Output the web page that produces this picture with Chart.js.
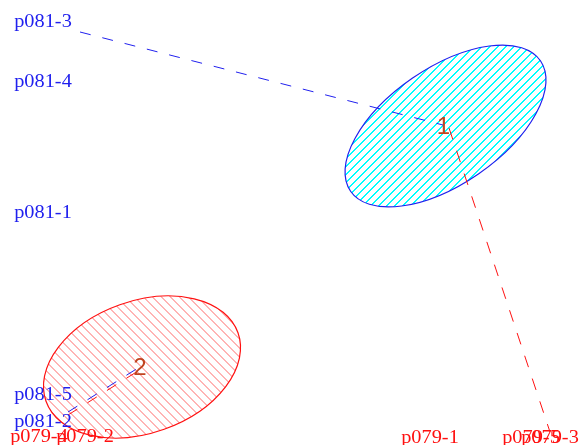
<!DOCTYPE html>
<html>
<head>
<meta charset="utf-8">
<script src="https://cdn.jsdelivr.net/npm/chart.js@4.4.0/dist/chart.umd.min.js"></script>
<style>
  html, body { margin: 0; padding: 0; background: #fff; }
  #wrap { width: 581px; height: 445px; }
</style>
</head>
<body>
<div id="wrap"><canvas id="myChart"></canvas></div>
<script>
// clusters: center, semi axes, tilt (deg)
var clusterNames = ['1', '2'];
var clusterX = [1.555, -1.48];
var clusterY = [0.96, -1.45];
var clusterA = [1.152, 1.019];
var clusterB = [0.581, 0.661];
var clusterAngle = [34.5, 19.6];

// point labels
var pointNames = ['p081-3', 'p081-4', 'p081-1', 'p081-5', 'p081-2',
                  'p079-4', 'p079-2', 'p079-1', 'p079-5', 'p079-3'];
var pointX = [-2.47, -2.47, -2.47, -2.47, -2.47, -2.51, -2.05, 1.40, 2.41, 2.60];
var pointY = [2.00, 1.40, 0.09, -1.73, -2.00, -2.15, -2.15, -2.16, -2.16, -2.16];
var pointGroup = [0, 0, 0, 0, 0, 1, 1, 1, 1, 1];

// dashed links
var link1X = [-2.10, 1.53];
var link1Y = [1.90, 0.97];
var link2X = [1.59, 2.60];
var link2Y = [0.94, -2.10];
var link3X = [-2.22, -1.52];
var link3Y = [-1.90, -1.46];
var link4X = [-2.22, -1.52];
var link4Y = [-1.93, -1.49];

var groupColor = ['#2020ee', '#ff1010'];
var hatchColor = ['#00ffff', '#ffb4b4'];
var hatchStep = [8, 9];

function pts(xs, ys) {
  return xs.map(function (x, i) { return {x: x, y: ys[i]}; });
}

// diagonal hatch tile, stair-stepped like the original
function hatch(color, dir, s) {
  var c = document.createElement('canvas');
  c.width = s; c.height = s;
  var g = c.getContext('2d');
  g.fillStyle = color;
  for (var k = 0; k < s; k++) {
    var y = dir > 0 ? s - 1 - k : k;
    g.fillRect(k, y, 1, 1);
    g.fillRect(k, (y + 1) % s, 1, 1);
  }
  return g.createPattern(c, 'repeat');
}

var clusterPlugin = {
  id: 'clusters',
  beforeDatasetsDraw: function (chart) {
    var ctx = chart.ctx, xs = chart.scales.x, ys = chart.scales.y;
    var unit = xs.getPixelForValue(1) - xs.getPixelForValue(0);
    ctx.save();
    for (var i = 0; i < clusterNames.length; i++) {
      var cx = xs.getPixelForValue(clusterX[i]);
      var cy = ys.getPixelForValue(clusterY[i]);
      ctx.beginPath();
      ctx.ellipse(cx, cy, clusterA[i] * unit, clusterB[i] * unit,
                  -clusterAngle[i] * Math.PI / 180, 0, Math.PI * 2);
      ctx.fillStyle = hatch(hatchColor[i], i === 0 ? 1 : -1, hatchStep[i]);
      ctx.fill();
      ctx.strokeStyle = groupColor[i];
      ctx.lineWidth = 1.2;
      ctx.stroke();
    }
    ctx.restore();
  },
  afterDatasetsDraw: function (chart) {
    var ctx = chart.ctx, xs = chart.scales.x, ys = chart.scales.y;
    ctx.save();
    ctx.textAlign = 'center';
    ctx.textBaseline = 'middle';
    ctx.font = '18px "Liberation Serif", serif';
    for (var i = 0; i < pointNames.length; i++) {
      ctx.save();
      ctx.translate(xs.getPixelForValue(pointX[i]), ys.getPixelForValue(pointY[i]));
      ctx.scale(1.13, 1);
      ctx.fillStyle = groupColor[pointGroup[i]];
      ctx.fillText(pointNames[i], 0, 0);
      ctx.restore();
    }
    ctx.font = '24px "Liberation Sans", Arial, sans-serif';
    ctx.fillStyle = '#c04420';
    for (var j = 0; j < clusterNames.length; j++) {
      ctx.fillText(clusterNames[j], xs.getPixelForValue(clusterX[j]) - 2, ys.getPixelForValue(clusterY[j]) + 1);
    }
    ctx.restore();
  }
};

function link(data, color, dash) {
  return {
    data: data, showLine: true, borderColor: color, borderWidth: 1,
    borderDash: dash, pointRadius: 0, fill: false
  };
}

var ctx = document.getElementById('myChart');
var myChart = new Chart(ctx, {
  type: 'scatter',
  data: {
    datasets: [
      link(pts(link1X, link1Y), groupColor[0], [11, 12]),
      link(pts(link2X, link2Y), groupColor[1], [12, 12]),
      link(pts(link3X, link3Y), groupColor[0], [11, 12]),
      link(pts(link4X, link4Y), groupColor[1], [11, 12])
    ]
  },
  options: {
    responsive: true,
    maintainAspectRatio: false,
    animation: false,
    layout: { padding: 0 },
    plugins: { legend: { display: false }, tooltip: { enabled: false } },
    scales: {
      x: { type: 'linear', min: -2.90, max: 2.91, display: false },
      y: { type: 'linear', min: -2.23, max: 2.22, display: false }
    }
  },
  plugins: [clusterPlugin]
});
</script>
</body>
</html>
